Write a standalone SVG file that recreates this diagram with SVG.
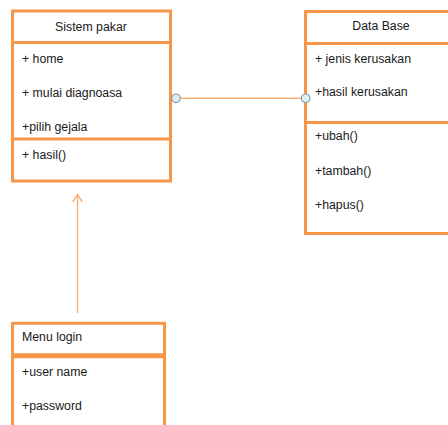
<svg xmlns="http://www.w3.org/2000/svg" width="448" height="425" viewBox="0 0 448 425">
  <defs>
    <style>
      .box { fill: #ffffff; stroke: #F79646; stroke-width: 3; }
      .div { stroke: #F79646; stroke-width: 3; }
      .txt { font-family: "Liberation Sans", Arial, sans-serif; font-size: 12.3px; fill: #1a1a1a; }
      .title { text-anchor: middle; }
      .link { stroke: #F9B07A; stroke-width: 1.4; fill: none; }
      .port { fill: #DDEFF3; stroke: #8C9CA1; stroke-width: 1.2; }
    </style>
  </defs>

  <rect width="448" height="425" fill="#ffffff"/>

  <!-- class: Sistem pakar -->
  <g id="sistem-pakar">
    <rect class="box" x="12.5" y="11" width="158" height="170"/>
    <line class="div" x1="12.5" y1="42.5" x2="170.5" y2="42.5"/>
    <line class="div" x1="12.5" y1="139" x2="170.5" y2="139"/>
    <text class="txt title" x="91" y="31">Sistem pakar</text>
    <text class="txt" x="22" y="63">+ home</text>
    <text class="txt" x="22" y="97">+ mulai diagnoasa</text>
    <text class="txt" x="22" y="131">+pilih gejala</text>
    <text class="txt" x="22" y="159">+ hasil()</text>
  </g>

  <!-- class: Data Base -->
  <g id="data-base">
    <rect class="box" x="305.5" y="11.5" width="160" height="222"/>
    <line class="div" x1="305.5" y1="43.5" x2="465.5" y2="43.5"/>
    <line class="div" x1="305.5" y1="122.5" x2="465.5" y2="122.5"/>
    <text class="txt title" x="381" y="30">Data Base</text>
    <text class="txt" x="315" y="63">+ jenis kerusakan</text>
    <text class="txt" x="315" y="96">+hasil kerusakan</text>
    <text class="txt" x="315" y="140">+ubah()</text>
    <text class="txt" x="315" y="175">+tambah()</text>
    <text class="txt" x="315" y="209">+hapus()</text>
  </g>

  <!-- class: Menu login -->
  <g id="menu-login">
    <rect class="box" x="12.5" y="323.3" width="152" height="130"/>
    <line class="div" x1="12.5" y1="355.8" x2="164.5" y2="355.8" style="stroke-width:5"/>
    <text class="txt" x="22" y="341">Menu login</text>
    <text class="txt" x="22" y="376">+user name</text>
    <text class="txt" x="22" y="410">+password</text>
  </g>

  <!-- connectors, drawn last so the ports sit on the class borders -->
  <g id="connectors">
    <line class="link" x1="176" y1="98.3" x2="305.7" y2="98.3"/>
    <circle class="port" cx="176" cy="98.3" r="4.3"/>
    <circle class="port" cx="305.7" cy="98.3" r="4.3"/>
    <line class="link" x1="77.5" y1="195" x2="77.5" y2="313"/>
    <polyline class="link" points="72.7,202 77.5,194.5 82.3,202"/>
  </g>
</svg>
